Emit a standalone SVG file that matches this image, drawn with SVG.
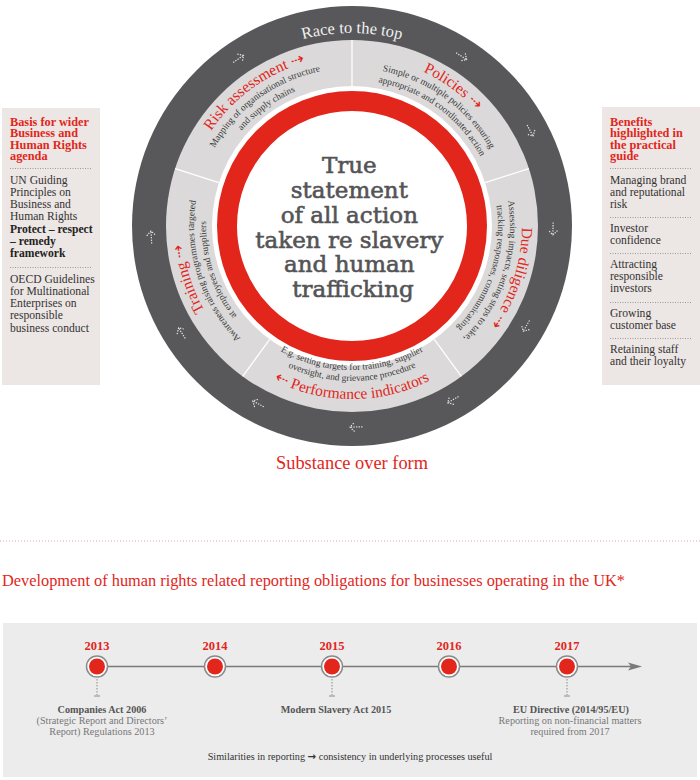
<svg xmlns="http://www.w3.org/2000/svg" width="700" height="780" viewBox="0 0 700 780">
<style>
.ttl{font-family:"Liberation Serif","Times New Roman",serif;font-size:15.5px;fill:#e2261c}
.sub{font-family:"Liberation Serif","Times New Roman",serif;font-size:9.4px;fill:#3a3a3a}
.arr{font-family:"DejaVu Sans",sans-serif;font-size:16px}
.box{font-family:"Liberation Serif","Times New Roman",serif;font-size:11.6px;fill:#333}
.boxh{font-family:"Liberation Serif","Times New Roman",serif;font-size:12.3px;font-weight:bold;fill:#e2261c}
.sep{stroke:#9a9a9a;stroke-width:1;stroke-dasharray:1 1.5;fill:none}
.div{stroke:#fff;stroke-width:1.3}
.yr{font-family:"Liberation Serif","Times New Roman",serif;font-size:12.5px;font-weight:bold;fill:#e2261c;text-anchor:middle}
.lb{font-family:"Liberation Serif","Times New Roman",serif;font-size:10.2px;fill:#777;text-anchor:middle}
.lbb{font-family:"Liberation Serif","Times New Roman",serif;font-size:10.2px;font-weight:bold;fill:#555;text-anchor:middle}
.lead{stroke:#8a8a8a;stroke-width:1;stroke-dasharray:1.5 1.5;fill:none}
.node{fill:#fff;stroke:#8a8a8a;stroke-width:1.5}
.dot{fill:#e2261c}
</style>
<defs>
<path id="pRace" d="M 215.53 89.53 A 193 193 0 0 1 488.47 89.53"/>
<path id="pRisk0" d="M 190.32 173.47 A 170 170 0 0 1 352 56"/>
<path id="pRisk1" d="M 201.73 177.17 A 158 158 0 0 1 352 68"/>
<path id="pRisk2" d="M 213.15 180.88 A 146 146 0 0 1 352 80"/>
<path id="pPol0" d="M 352 56 A 170 170 0 0 1 513.68 173.47"/>
<path id="pPol1" d="M 352 68 A 158 158 0 0 1 502.27 177.17"/>
<path id="pPol2" d="M 352 80 A 146 146 0 0 1 490.85 180.88"/>
<path id="pDue0" d="M 513.68 173.47 A 170 170 0 0 1 451.92 363.53"/>
<path id="pDue1" d="M 502.27 177.17 A 158 158 0 0 1 444.87 353.83"/>
<path id="pDue2" d="M 490.85 180.88 A 146 146 0 0 1 437.82 344.12"/>
<path id="pTra0" d="M 252.08 363.53 A 170 170 0 0 1 190.32 173.47"/>
<path id="pTra1" d="M 259.13 353.83 A 158 158 0 0 1 201.73 177.17"/>
<path id="pTra2" d="M 266.18 344.12 A 146 146 0 0 1 213.15 180.88"/>
<path id="pPer0" d="M 250.31 365.96 A 173 173 0 0 0 453.69 365.96"/>
<path id="pPer1" d="M 260.89 351.40 A 155 155 0 0 0 443.11 351.40"/>
<path id="pPer2" d="M 267.36 342.50 A 144 144 0 0 0 436.64 342.50"/>
<g id="da" fill="none" stroke="#e8e8e8" stroke-width="1.2" stroke-dasharray="1.3 1.3"><path d="M-7 0H5"/><path d="M1 -4.5L5.5 0L1 4.5"/></g>
</defs>

<g id="cycle">
<circle cx="352" cy="226" r="220" fill="#58585b"/>
<circle cx="352" cy="226" r="186" fill="#dbd9d9"/>
<circle cx="352" cy="226" r="140" fill="#fff"/>
<circle cx="352" cy="226" r="125" fill="#fff" stroke="#e2261c" stroke-width="20"/>
<line class="div" x1="352" y1="40" x2="352" y2="86"/>
<line class="div" x1="485.15" y1="182.74" x2="528.90" y2="168.52"/>
<line class="div" x1="434.29" y1="339.26" x2="461.33" y2="376.48"/>
<line class="div" x1="269.71" y1="339.26" x2="242.67" y2="376.48"/>
<line class="div" x1="218.85" y1="182.74" x2="175.10" y2="168.52"/>
<text font-family="Liberation Serif, serif" font-size="16.5" fill="#f0f0f0"><textPath href="#pRace" startOffset="50%" text-anchor="middle">Race to the top</textPath></text>
</g>

<g id="center">
<text font-family="DejaVu Serif, serif" font-size="23" fill="#545456" stroke="#545456" stroke-width="0.6" text-anchor="middle">
<tspan x="353" y="173">True</tspan>
<tspan x="353" y="198">statement</tspan>
<tspan x="353" y="223">of all action</tspan>
<tspan x="353" y="248">taken re slavery</tspan>
<tspan x="353" y="272">and human</tspan>
<tspan x="353" y="297">trafficking</tspan>
</text>
</g>

<g id="risk-assessment">
<text class="ttl"><textPath href="#pRisk0" startOffset="50%" text-anchor="middle">Risk assessment <tspan class="arr">⇢</tspan></textPath></text>
<text class="sub"><textPath href="#pRisk1" startOffset="50%" text-anchor="middle">Mapping of organisational structure</textPath></text>
<text class="sub"><textPath href="#pRisk2" startOffset="50%" text-anchor="middle">and supply chains</textPath></text>
</g>

<g id="policies">
<text class="ttl"><textPath href="#pPol0" startOffset="50%" text-anchor="middle">Policies <tspan class="arr">⇢</tspan></textPath></text>
<text class="sub"><textPath href="#pPol1" startOffset="50%" text-anchor="middle">Simple or multiple policies ensuring</textPath></text>
<text class="sub"><textPath href="#pPol2" startOffset="50%" text-anchor="middle">appropriate and coordinated action</textPath></text>
</g>

<g id="due-diligence">
<text class="ttl"><textPath href="#pDue0" startOffset="50%" text-anchor="middle">Due diligence <tspan class="arr">⇢</tspan></textPath></text>
<text class="sub"><textPath href="#pDue1" startOffset="50%" text-anchor="middle">Assessing impacts, setting steps to take,</textPath></text>
<text class="sub"><textPath href="#pDue2" startOffset="50%" text-anchor="middle">tracking responses, communicating</textPath></text>
</g>

<g id="performance-indicators">
<text class="ttl"><textPath href="#pPer0" startOffset="50%" text-anchor="middle"><tspan class="arr">⇠</tspan> Performance indicators</textPath></text>
<text class="sub"><textPath href="#pPer1" startOffset="50%" text-anchor="middle">oversight, and grievance procedure</textPath></text>
<text class="sub"><textPath href="#pPer2" startOffset="50%" text-anchor="middle">E.g. setting targets for training, supplier</textPath></text>
</g>

<g id="training">
<text class="ttl"><textPath href="#pTra0" startOffset="50%" text-anchor="middle">Training <tspan class="arr">⇢</tspan></textPath></text>
<text class="sub"><textPath href="#pTra1" startOffset="50%" text-anchor="middle">Awareness raising programmes targeted</textPath></text>
<text class="sub"><textPath href="#pTra2" startOffset="50%" text-anchor="middle">at employees and suppliers</textPath></text>
</g>

<g id="basis">
<rect x="2" y="108" width="98" height="277" fill="#ece6e4"/>
<text class="boxh"><tspan x="10" y="126">Basis for wider</tspan><tspan x="10" y="137.3">Business and</tspan><tspan x="10" y="148.6">Human Rights</tspan><tspan x="10" y="159.9">agenda</tspan></text>
<line class="sep" x1="10" y1="168.5" x2="92" y2="168.5"/>
<text class="box"><tspan x="10" y="183.5">UN Guiding</tspan><tspan x="10" y="195.8">Principles on</tspan><tspan x="10" y="208.1">Business and</tspan><tspan x="10" y="220.4">Human Rights</tspan><tspan x="10" y="232.7" font-weight="bold" fill="#222">Protect – respect</tspan><tspan x="10" y="245" font-weight="bold" fill="#222">– remedy</tspan><tspan x="10" y="257.3" font-weight="bold" fill="#222">framework</tspan></text>
<line class="sep" x1="10" y1="267.5" x2="92" y2="267.5"/>
<text class="box"><tspan x="10" y="282.5">OECD Guidelines</tspan><tspan x="10" y="294.8">for Multinational</tspan><tspan x="10" y="307.1">Enterprises on</tspan><tspan x="10" y="319.4">responsible</tspan><tspan x="10" y="331.7">business conduct</tspan></text>
</g>

<g id="benefits">
<rect x="602" y="107" width="98" height="278" fill="#ece6e4"/>
<text class="boxh"><tspan x="610" y="126">Benefits</tspan><tspan x="610" y="137.3">highlighted in</tspan><tspan x="610" y="148.6">the practical</tspan><tspan x="610" y="159.9">guide</tspan></text>
<line class="sep" x1="610" y1="168.5" x2="692" y2="168.5"/>
<text class="box"><tspan x="610" y="183.5">Managing brand</tspan><tspan x="610" y="195.8">and reputational</tspan><tspan x="610" y="208.1">risk</tspan></text>
<line class="sep" x1="610" y1="217.5" x2="692" y2="217.5"/>
<text class="box"><tspan x="610" y="231.7">Investor</tspan><tspan x="610" y="244">confidence</tspan></text>
<line class="sep" x1="610" y1="253.5" x2="692" y2="253.5"/>
<text class="box"><tspan x="610" y="267.7">Attracting</tspan><tspan x="610" y="280">responsible</tspan><tspan x="610" y="292.3">investors</tspan></text>
<line class="sep" x1="610" y1="302.5" x2="692" y2="302.5"/>
<text class="box"><tspan x="610" y="316.7">Growing</tspan><tspan x="610" y="329">customer base</tspan></text>
<line class="sep" x1="610" y1="338.5" x2="692" y2="338.5"/>
<text class="box"><tspan x="610" y="352.7">Retaining staff</tspan><tspan x="610" y="365">and their loyalty</tspan></text>
</g>

<g id="substance">
<text x="352" y="469" font-family="Liberation Serif, serif" font-size="19.5" fill="#e2261c" text-anchor="middle" textLength="152" lengthAdjust="spacingAndGlyphs">Substance over form</text>
</g>

<line x1="0" y1="541" x2="700" y2="541" stroke="#d5ada2" stroke-width="1" stroke-dasharray="1 2"/>

<g id="heading">
<text x="2" y="586" font-family="Liberation Serif, serif" font-size="17.5" fill="#e2261c" textLength="623" lengthAdjust="spacingAndGlyphs">Development of human rights related reporting obligations for businesses operating in the UK*</text>
</g>

<g id="timeline">
<rect x="3" y="623" width="694" height="154" fill="#ececec"/>
</g>

<g id="connectors">
<use href="#da" transform="translate(239,58.5) rotate(-34)"/>
<use href="#da" transform="translate(462,56.6) rotate(33)"/>
<use href="#da" transform="translate(530.4,131.2) rotate(62)"/>
<use href="#da" transform="translate(553,229.5) rotate(91)"/>
<use href="#da" transform="translate(526,326.5) rotate(120)"/>
<use href="#da" transform="translate(452.5,400) rotate(150)"/>
<use href="#da" transform="translate(355.5,427) rotate(179)"/>
<use href="#da" transform="translate(257.6,403.5) rotate(208)"/>
<use href="#da" transform="translate(181.5,332.5) rotate(238)"/>
<use href="#da" transform="translate(151.3,236.5) rotate(267)"/>
<line x1="97" y1="666.5" x2="632" y2="666.5" stroke="#7a7a7a" stroke-width="1.5"/>
<polygon points="628,662.5 642,666.5 628,670.5 631,666.5" fill="#7a7a7a"/>
<path class="lead" d="M97 679V695"/><path d="M94 696H100" stroke="#8a8a8a" stroke-width="1"/>
<path class="lead" d="M332 679V695"/><path d="M329 696H335" stroke="#8a8a8a" stroke-width="1"/>
<path class="lead" d="M567 679V695"/><path d="M564 696H570" stroke="#8a8a8a" stroke-width="1"/>
</g>

<g id="y2013">
<text class="yr" x="97" y="650">2013</text>
<circle class="node" cx="97" cy="666.5" r="10.5"/>
<circle class="dot" cx="97" cy="666.5" r="8"/>
<text class="lbb" x="102" y="713">Companies Act 2006</text>
<text class="lb" x="102" y="724">(Strategic Report and Directors’</text>
<text class="lb" x="102" y="735">Report) Regulations 2013</text>
</g>
<g id="y2014">
<text class="yr" x="215" y="650">2014</text>
<circle class="node" cx="215" cy="666.5" r="10.5"/>
<circle class="dot" cx="215" cy="666.5" r="8"/>
</g>
<g id="y2015">
<text class="yr" x="332" y="650">2015</text>
<circle class="node" cx="332" cy="666.5" r="10.5"/>
<circle class="dot" cx="332" cy="666.5" r="8"/>
<text class="lbb" x="336" y="713">Modern Slavery Act 2015</text>
</g>
<g id="y2016">
<text class="yr" x="449" y="650">2016</text>
<circle class="node" cx="449" cy="666.5" r="10.5"/>
<circle class="dot" cx="449" cy="666.5" r="8"/>
</g>
<g id="y2017">
<text class="yr" x="567" y="650">2017</text>
<circle class="node" cx="567" cy="666.5" r="10.5"/>
<circle class="dot" cx="567" cy="666.5" r="8"/>
<text class="lbb" x="571" y="713">EU Directive (2014/95/EU)</text>
<text class="lb" x="570" y="724">Reporting on non-financial matters</text>
<text class="lb" x="570" y="735">required from 2017</text>
</g>
<g id="note">
<text x="350" y="760" font-family="Liberation Serif, serif" font-size="10.2" fill="#333" text-anchor="middle">Similarities in reporting <tspan font-family="DejaVu Sans, sans-serif" font-weight="bold">→</tspan> consistency in underlying processes useful</text>
</g>
</svg>
